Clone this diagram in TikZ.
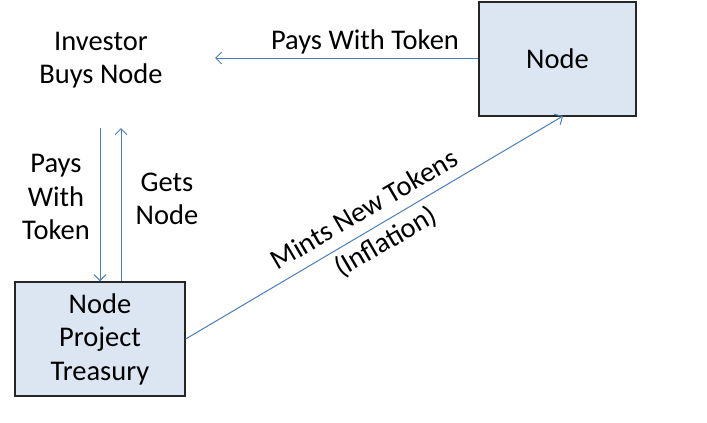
\documentclass[tikz,border=0pt]{standalone}
\usepackage{fontspec}
\setmainfont{Carlito}
\usetikzlibrary{arrows.meta,calc}
\definecolor{boxfill}{HTML}{DCE6F2}
\definecolor{arrblue}{HTML}{4A7EBB}
\tikzset{
  box/.style={draw=black!85, line width=1.3pt, fill=boxfill, align=center, inner sep=0pt},
  arr/.style={draw=arrblue, line width=1pt, -{Straight Barb[length=6pt,width=12pt]}},
  lbl/.style={align=center, inner sep=0pt, font=\fontsize{28.5}{33.5}\selectfont}
}
\begin{document}
\begin{tikzpicture}[x=1pt,y=-1pt]
\useasboundingbox (0,0) rectangle (707,423);
\node[box, lbl, minimum width=157pt, minimum height=114pt] (node) at (557.5,59) {Node};
\node[box, lbl, minimum width=170pt, minimum height=114pt] (tr) at (100,339) {Node\\Project\\Treasury};
\node[lbl] (inv) at (101,60) {Investor\\Buys Node};
\coordinate (h) at (215,58);
\draw[arr] (node.west |- h) -- (h);
\node[lbl] (l1) at (365,42) {Pays With Token};
\coordinate (d1) at (100,128);
\coordinate (u1) at (121,128);
\draw[arr] (d1) -- (d1 |- tr.north);
\draw[arr] (u1 |- tr.north) -- (u1);
\node[lbl] (l2) at (56,197) {Pays\\With\\Token};
\node[lbl] (l3) at (167,199) {Gets\\Node};
\coordinate (dt) at (563,116);
\draw[arr] (tr.east) -- (dt);
\node[lbl, rotate=30.3] (l4) at (364,209) {Mints New Tokens};
\node[lbl, rotate=30.3] (l5) at (386,242) {(Inflation)};
\end{tikzpicture}
\end{document}
